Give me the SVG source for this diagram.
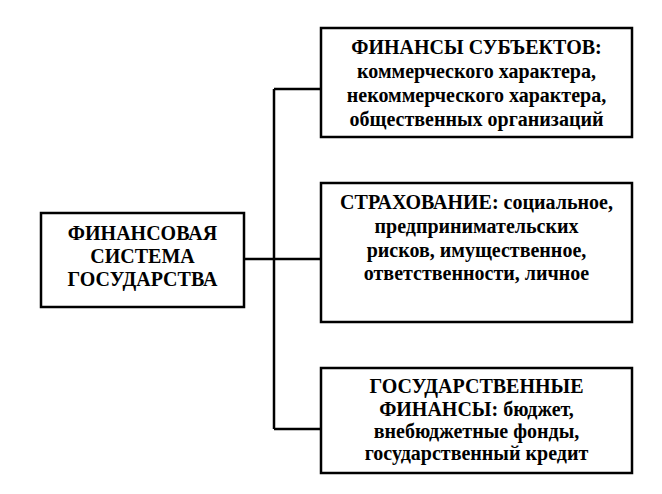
<svg xmlns="http://www.w3.org/2000/svg" width="662" height="494" viewBox="0 0 662 494">
<style>
.box{fill:#fff;stroke:#000;stroke-width:2.5}
.t{font-family:"Liberation Serif","DejaVu Serif",serif;font-weight:bold;font-size:20px;text-anchor:middle;fill:#000}
.c{stroke:#000;stroke-width:2.5;fill:none}
</style>
<rect width="662" height="494" fill="#fff"/>
<g id="connectors">
<path class="c" d="M244 259H321M274 89V429M274 89H321M274 429H321"/>
</g>
<g id="root">
<rect class="box" x="41" y="213" width="203" height="94"/>
<text class="t" x="142.5" y="240">ФИНАНСОВАЯ</text>
<text class="t" x="142.5" y="263">СИСТЕМА</text>
<text class="t" x="142.5" y="286">ГОСУДАРСТВА</text>
</g>
<g id="subjects">
<rect class="box" x="321" y="28" width="311" height="109"/>
<text class="t" x="476.5" y="54">ФИНАНСЫ СУБЪЕКТОВ:</text>
<text class="t" x="476.5" y="78">коммерческого характера,</text>
<text class="t" x="476.5" y="102">некоммерческого характера,</text>
<text class="t" x="476.5" y="126">общественных организаций</text>
</g>
<g id="insurance">
<rect class="box" x="321" y="183" width="311" height="139"/>
<text class="t" x="476.5" y="209">СТРАХОВАНИЕ: социальное,</text>
<text class="t" x="476.5" y="233">предпринимательских</text>
<text class="t" x="476.5" y="257">рисков, имущественное,</text>
<text class="t" x="476.5" y="280">ответственности, личное</text>
</g>
<g id="state">
<rect class="box" x="321" y="368" width="311" height="105"/>
<text class="t" x="476.5" y="393">ГОСУДАРСТВЕННЫЕ</text>
<text class="t" x="476.5" y="416">ФИНАНСЫ: бюджет,</text>
<text class="t" x="476.5" y="438">внебюджетные фонды,</text>
<text class="t" x="476.5" y="460">государственный кредит</text>
</g>
</svg>
